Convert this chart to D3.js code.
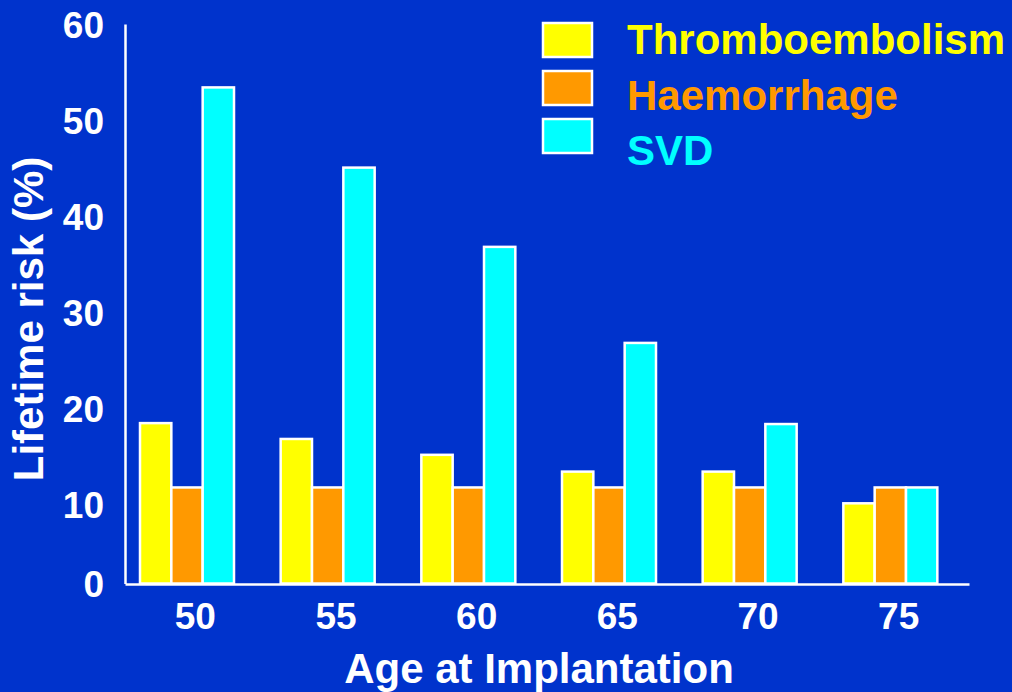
<html>
<head>
<title>Lifetime risk by age at implantation</title>
<script src="https://cdnjs.cloudflare.com/ajax/libs/d3/7.8.5/d3.min.js"></script>
<style>
body { margin: 0; background: #0033cc; }
svg text { font-family: "Liberation Sans", Arial, sans-serif; font-weight: bold; }
</style>
</head>
<body>
<div class="datavis"></div>
<script>
var ages = ["50", "55", "60", "65", "70", "75"];
var seriesNames = ["Thromboembolism", "Haemorrhage", "SVD"];
var seriesColors = ["#ffff00", "#ff9900", "#00ffff"];
var thrombo = [17.2, 15.5, 13.8, 12.0, 12.0, 8.6];
var haem = [10.3, 10.3, 10.3, 10.3, 10.3, 10.3];
var svd = [53.2, 44.6, 36.1, 25.8, 17.1, 10.3];
var yTicks = [0, 10, 20, 30, 40, 50, 60];

var W = 1012, H = 692;
var svg = d3.select(".datavis").append("svg")
	.attr("width", W).attr("height", H);
svg.append("rect").attr("width", W).attr("height", H).attr("fill", "#0033cc");

var x = d3.scaleBand().domain(ages).range([125, 969]);
var xs = d3.scaleBand().domain(seriesNames).range([15, 109]);
var y = d3.scaleLinear().domain([0, 60]).range([583.5, 24]);
// the tick labels in the original slide sit a bit off the value scale
var yLab = d3.scaleLinear().domain([0, 10, 60]).range([585, 506, 25.5]);

var table = ages.map(function(a, i){
	return { age: a, vals: [thrombo[i], haem[i], svd[i]] };
});

// bars
var groups = svg.selectAll("g.grp").data(table).enter()
	.append("g").attr("class", "grp")
	.attr("transform", function(d){ return "translate(" + x(d.age) + ",0)"; });
groups.selectAll("rect").data(function(d){
		return d.vals.map(function(v, k){ return { name: seriesNames[k], v: v, c: seriesColors[k] }; });
	}).enter().append("rect")
	.attr("x", function(d){ return xs(d.name); })
	.attr("y", function(d){ return y(d.v); })
	.attr("width", xs.bandwidth())
	.attr("height", function(d){ return y(0) - y(d.v); })
	.attr("fill", function(d){ return d.c; })
	.attr("stroke", "#fff")
	.attr("stroke-width", 2.5);

// axes lines
var yAxis = svg.append("g").attr("transform", "translate(125,0)")
	.call(d3.axisLeft(y).ticks(0).tickSizeOuter(0));
yAxis.select(".domain").attr("stroke", "#fff").attr("stroke-width", 2.5);

var xAxis = svg.append("g").attr("transform", "translate(0,584)")
	.call(d3.axisBottom(x).tickSize(0).tickPadding(19));
xAxis.select(".domain").attr("stroke", "#fff").attr("stroke-width", 2.5);
xAxis.selectAll("text").attr("fill", "#fff")
	.style("font-size", "37px");

var yLabels = svg.append("g").attr("transform", "translate(125,0)")
	.call(d3.axisLeft(yLab).tickValues(yTicks).tickSize(0).tickPadding(21));
yLabels.select(".domain").remove();
yLabels.selectAll("text").attr("fill", "#fff")
	.style("font-size", "37px");

// titles
svg.append("text")
	.attr("transform", "translate(43,319) rotate(-90)")
	.attr("text-anchor", "middle")
	.attr("fill", "#fff")
	.style("font-size", "42px")
	.text("Lifetime risk (%)");
svg.append("text")
	.attr("x", 539).attr("y", 683)
	.attr("text-anchor", "middle")
	.attr("fill", "#fff")
	.style("font-size", "42px")
	.text("Age at Implantation");

// legend
var leg = svg.selectAll("g.leg").data(seriesNames).enter()
	.append("g").attr("class", "leg");
leg.append("rect")
	.attr("x", 543)
	.attr("y", function(d, i){ return 23 + i * 48; })
	.attr("width", 49).attr("height", 34)
	.attr("fill", function(d, i){ return seriesColors[i]; })
	.attr("stroke", "#fff").attr("stroke-width", 2.5);
leg.append("text")
	.attr("x", 627)
	.attr("y", function(d, i){ return 54 + i * 55.7; })
	.attr("fill", function(d, i){ return seriesColors[i]; })
	.style("font-size", "42px")
	.text(function(d){ return d; });
</script>
</body>
</html>
